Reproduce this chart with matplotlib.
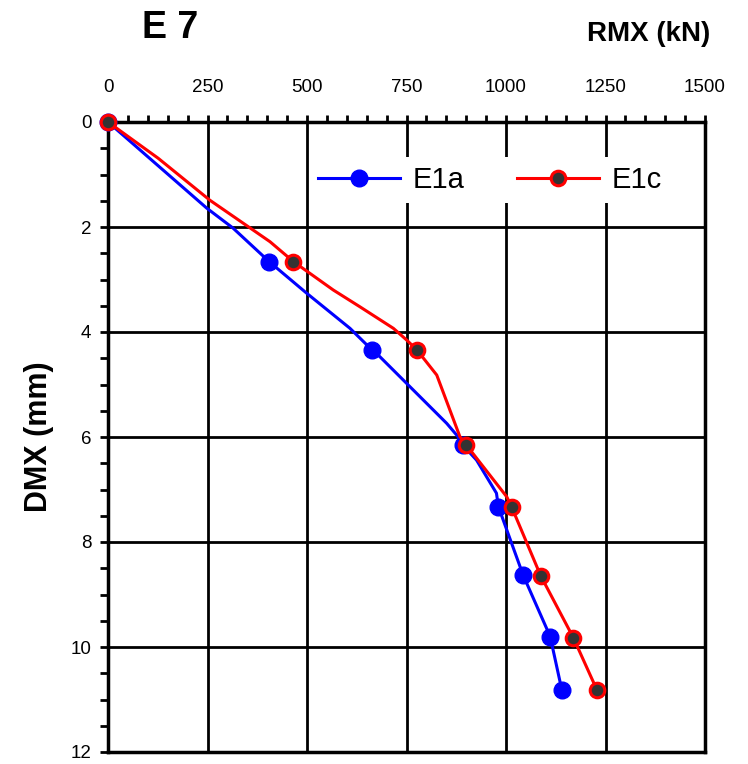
import matplotlib.pyplot as plt
from matplotlib.lines import Line2D
from matplotlib.ticker import MultipleLocator

plt.rcParams['font.family'] = ['Liberation Sans', 'DejaVu Sans']

# E1a: full recorded curve and the marked load steps
e1a_curve_x = [0, 248, 314, 405, 499, 608, 663, 683, 851, 879, 891, 926, 976, 981, 1043, 1111, 1140]
e1a_curve_y = [0, 1.64, 2.02, 2.66, 3.26, 3.93, 4.34, 4.47, 5.74, 5.99, 6.15, 6.44, 7.07, 7.33, 8.63, 9.80, 10.81]
e1a_mark_x = [0, 405, 663, 891, 981, 1043, 1111, 1140]
e1a_mark_y = [0, 2.66, 4.34, 6.15, 7.33, 8.63, 9.80, 10.81]

# E1c
e1c_curve_x = [0, 126, 256, 365, 407, 466, 566, 633, 717, 750, 776, 826, 884, 900, 1002, 1014, 1087, 1169, 1228]
e1c_curve_y = [0, 0.69, 1.49, 2.06, 2.28, 2.66, 3.20, 3.52, 3.93, 4.15, 4.34, 4.82, 5.99, 6.15, 7.14, 7.33, 8.64, 9.82, 10.81]
e1c_mark_x = [0, 466, 776, 900, 1014, 1087, 1169, 1228]
e1c_mark_y = [0, 2.66, 4.34, 6.15, 7.33, 8.64, 9.82, 10.81]

fig = plt.figure(figsize=(7.48, 7.64), dpi=100)
ax = fig.add_axes([108 / 748, 1 - 752 / 764, 597 / 748, 630 / 764])

ax.plot(e1a_curve_x, e1a_curve_y, color="#0000ff", lw=2.2, zorder=3, clip_on=False)
ax.plot(e1a_mark_x, e1a_mark_y, ls="none", marker="o", ms=12, color="#0000ff",
        zorder=4, clip_on=False)
ax.plot(e1c_curve_x, e1c_curve_y, color="#ff0000", lw=2.2, zorder=5, clip_on=False)
ax.plot(e1c_mark_x, e1c_mark_y, ls="none", marker="o", ms=10.5, mfc="#333333",
        mec="#ff0000", mew=2.2, zorder=6, clip_on=False)

ax.set_xlim(0, 1500)
ax.set_ylim(12, 0)
ax.xaxis.set_major_locator(MultipleLocator(250))
ax.xaxis.set_minor_locator(MultipleLocator(50))
ax.yaxis.set_major_locator(MultipleLocator(2))
ax.yaxis.set_minor_locator(MultipleLocator(0.5))
ax.xaxis.tick_top()
ax.tick_params(axis="x", which="both", direction="out", length=5, width=2,
               pad=14, labelsize=13.5, bottom=False, top=True)
ax.tick_params(axis="y", which="both", direction="out", length=6, width=2,
               pad=6, labelsize=13.5, right=False)
ax.grid(True, which="major", color="black", lw=2)
for s in ax.spines.values():
    s.set_linewidth(2.5)
ax.set_axisbelow(True)

ax.set_ylabel("DMX (mm)", fontsize=22, fontweight="bold", labelpad=12)

handles = [
    Line2D([], [], color="#0000ff", lw=2.2, marker="o", ms=12),
    Line2D([], [], color="#ff0000", lw=2.2, marker="o", ms=10.5, mfc="#333333",
           mec="#ff0000", mew=2.2),
]
leg = ax.legend(handles, ["E1a", "E1c"], ncol=2, loc="center",
                bbox_to_anchor=(0.640, 0.908), fontsize=21, frameon=True,
                facecolor="white", edgecolor="none", framealpha=1,
                handlelength=2.8, handletextpad=0.45, columnspacing=1.8,
                borderpad=0.3, numpoints=1, fancybox=False)
leg.set_zorder(10)

fig.text(170 / 748, 1 - 28 / 764, "E 7", fontsize=27, fontweight="bold",
         ha="center", va="center")
fig.text(649 / 748, 1 - 34 / 764, "RMX (kN)", fontsize=20, fontweight="bold",
         ha="center", va="center")

fig.savefig("out.png", dpi=100)
